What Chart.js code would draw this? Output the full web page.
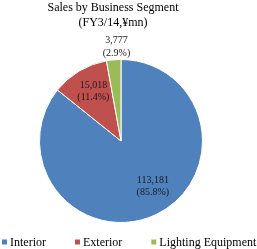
<!DOCTYPE html>
<html><head><meta charset="utf-8">
<script src="https://cdn.jsdelivr.net/npm/chart.js@4/dist/chart.umd.min.js"></script>
<style>html,body{margin:0;padding:0;background:#fff}#wrap{width:257px;height:249px}</style>
</head><body><div id="wrap"><canvas id="c" width="257" height="249"></canvas></div>
<script>
const categories = ['Interior', 'Exterior', 'Lighting Equipment'];
const sales = [113181, 15018, 3777];
const shares = [85.8, 11.4, 2.9];
const colors = ['#4F81BD', '#C0504D', '#9BBB59'];
const labelRadius = [0.62, 0.71, 1.16];
const labelShiftX = [10, 2, 4];
const FONT = "'Liberation Serif', 'Times New Roman', serif";

const fmt = v => v.toLocaleString('en-US');

const placePlugin = {
  id: 'place',
  afterLayout(chart) {
    const a = chart.chartArea;
    a.left = 39; a.right = 203; a.top = 59; a.bottom = 223;
    a.width = a.right - a.left; a.height = a.bottom - a.top;
    if (chart.titleBlock) { chart.titleBlock.right = chart.titleBlock.left + 226; }
  }
};
const labelPlugin = {
  id: 'vlabels',
  afterDatasetsDraw(chart) {
    const ctx = chart.ctx;
    const meta = chart.getDatasetMeta(0);
    ctx.save();
    ctx.font = "10px " + FONT;
    ctx.fillStyle = '#1a1a1a';
    ctx.textAlign = 'center';
    ctx.textBaseline = 'middle';
    meta.data.forEach((arc, i) => {
      const p = arc.getProps(['x','y','startAngle','endAngle','outerRadius'], true);
      const mid = (p.startAngle + p.endAngle) / 2;
      const r = p.outerRadius * labelRadius[i];
      const x = p.x + Math.cos(mid) * r + labelShiftX[i];
      const y = p.y + Math.sin(mid) * r;
      ctx.fillText(fmt(sales[i]), x, y - 6.3);
      ctx.fillText('(' + shares[i].toFixed(1) + '%)', x, y + 6.3);
    });
    ctx.restore();
  }
};
const legendPlugin = {
  id: 'bottomLegend',
  afterDraw(chart) {
    const ctx = chart.ctx;
    const ds = chart.data.datasets[0];
    ctx.save();
    ctx.font = "12px " + FONT;
    ctx.fillStyle = '#000';
    ctx.textBaseline = 'middle';
    ctx.textAlign = 'left';
    let x = 2;
    const y = 242.5;
    chart.data.labels.forEach((lab, i) => {
      ctx.fillStyle = ds.backgroundColor[i];
      ctx.fillRect(x, y - 3, 5, 5);
      ctx.fillStyle = '#000';
      ctx.fillText(lab, x + 8, y);
      x += 8 + ctx.measureText(lab).width + 29;
    });
    ctx.restore();
  }
};

new Chart(document.getElementById('c'), {
  type: 'pie',
  data: {
    labels: categories,
    datasets: [{ data: sales, backgroundColor: colors, borderColor: '#ffffff', borderWidth: 1 }]
  },
  options: {
    responsive: false,
    animation: false,
    plugins: {
      title: { display: true, text: ['Sales by Business Segment', '(FY3/14,\u00A5mn)'],
        color: '#000', font: { family: FONT, size: 12, weight: 'normal', lineHeight: 1.2 },
        padding: { top: 1, bottom: 4 } },
      legend: { display: false },
      tooltip: { enabled: false }
    }
  },
  plugins: [placePlugin, labelPlugin, legendPlugin]
});
</script></body></html>
